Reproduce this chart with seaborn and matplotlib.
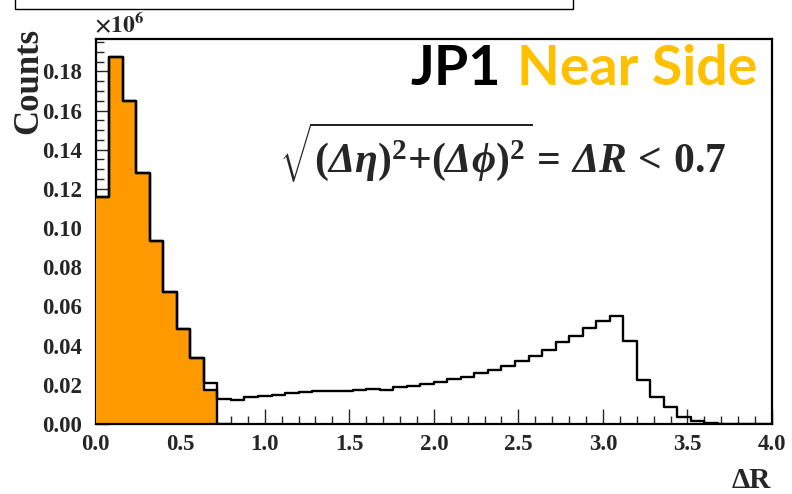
import numpy as np
import pandas as pd
import matplotlib
matplotlib.use("Agg")
import matplotlib.pyplot as plt
from matplotlib.patches import Rectangle
from matplotlib.ticker import MultipleLocator, FormatStrFormatter
import seaborn as sns

# ---- data (counts in units of 1e6), 50 bins of width 0.08 on [0, 4]
bin_lo = 0.0
bin_hi = 4.0
n_bins = 50
total_counts = [0.116, 0.1874, 0.165, 0.128, 0.0936, 0.0673, 0.0483, 0.0337, 0.021, 0.0128,
                0.0124, 0.0139, 0.0144, 0.0149, 0.0156, 0.0161, 0.0166, 0.0169, 0.0169, 0.0175,
                0.0180, 0.0175, 0.0190, 0.0195, 0.0205, 0.0215, 0.0230, 0.0240, 0.0262, 0.0276,
                0.0297, 0.0322, 0.0348, 0.0378, 0.0419, 0.0450, 0.0490, 0.0526, 0.0553, 0.0422,
                0.0227, 0.0139, 0.0085, 0.0037, 0.0017, 0.0007, 0.0, 0.0, 0.0, 0.0]
near_counts = [0.116, 0.1874, 0.165, 0.128, 0.0936, 0.0673, 0.0483, 0.0337, 0.0173, 0.0]
x_label = "\u0394R"
y_label = "Counts"
title_a = "JP1"
title_b = "Near Side"
formula = r"$\sqrt{\mathbf{(}\Delta\eta\mathbf{)}^{\mathbf{2}}\mathbf{+}\mathbf{(}\Delta\phi\mathbf{)}^{\mathbf{2}}}\mathbf{=}\,\Delta R\,<\,\mathbf{0.7}$"

edges = np.linspace(bin_lo, bin_hi, n_bins + 1)
centers = 0.5 * (edges[:-1] + edges[1:])
near_edges = edges[:len(near_counts) + 1]

df_total = pd.DataFrame({"x": centers, "w": total_counts})
df_near = pd.DataFrame({"x": centers[:len(near_counts)], "w": near_counts})

sns.set_style("ticks")
plt.rcParams["font.family"] = ["Liberation Serif", "DejaVu Serif"]
plt.rcParams["font.weight"] = "bold"
plt.rcParams["mathtext.fontset"] = "custom"
plt.rcParams["mathtext.rm"] = "Liberation Serif:italic:bold"
plt.rcParams["mathtext.it"] = "Liberation Serif:italic:bold"
plt.rcParams["mathtext.bf"] = "Liberation Serif:bold"

DPI = 100
fig = plt.figure(figsize=(7.92, 4.94), dpi=DPI)
W, H = 792, 494
ax_l, ax_r, ax_t, ax_b = 95.7, 772, 39, 424
ax = fig.add_axes([ax_l / W, 1 - ax_b / H, (ax_r - ax_l) / W, (ax_b - ax_t) / H])

orange = "#ff9900"
lw = 1.7
# filled near-side histogram
sns.histplot(data=df_near, x="x", weights="w", bins=list(near_edges), element="step",
             fill=True, color=orange, alpha=1.0, linewidth=0, ax=ax, zorder=1)
# outline of near-side histogram
sns.histplot(data=df_near, x="x", weights="w", bins=list(near_edges), element="step",
             fill=False, color="black", linewidth=lw, ax=ax, zorder=3)
# outline of full histogram
sns.histplot(data=df_total, x="x", weights="w", bins=list(edges), element="step",
             fill=False, color="black", linewidth=lw, ax=ax, zorder=3)

ax.set_xlim(bin_lo, bin_hi)
ax.set_ylim(0, 0.1965)
ax.set_xlabel("")
ax.set_ylabel("")
ax.set_axisbelow(True)
for s in ax.spines.values():
    s.set_visible(True)
    s.set_linewidth(1.6)
    s.set_color("black")
ax.spines["left"].set_zorder(0.9)

ax.xaxis.set_major_locator(MultipleLocator(0.5))
ax.xaxis.set_minor_locator(MultipleLocator(0.1))
ax.yaxis.set_major_locator(MultipleLocator(0.02))
ax.yaxis.set_minor_locator(MultipleLocator(0.005))
ax.xaxis.set_major_formatter(FormatStrFormatter("%.1f"))
ax.yaxis.set_major_formatter(FormatStrFormatter("%.2f"))
ax.tick_params(axis="x", which="major", direction="in", length=11, width=1.0, pad=7,
               labelsize=16.5, top=False)
ax.tick_params(axis="x", which="minor", direction="in", length=6, width=1.0, top=False)
ax.tick_params(axis="y", which="major", direction="in", length=9, width=1.0, pad=10,
               labelsize=16.5, right=False)
ax.tick_params(axis="y", which="minor", direction="in", length=6, width=1.0, right=False)
for lab in ax.get_xticklabels() + ax.get_yticklabels():
    lab.set_fontweight("bold")

# axis titles
fig.text(29 / W, 1 - 28 / H, y_label, rotation=90, ha="center", va="top",
         fontsize=25, fontweight="bold")
fig.text(771 / W, 1 - 488 / H, x_label, ha="right", va="baseline",
         fontsize=21, fontweight="bold")
fig.text(94 / W, 1 - 33 / H, r"$\times\mathbf{10^{6}}$", ha="left", va="baseline",
         fontsize=17, math_fontfamily="stix")

# title texts
tb = fig.text(757 / W, 1 - 85 / H, title_b, ha="right", va="baseline", fontsize=40,
              fontweight="bold", family="Lato", color="#ffc000")
fig.canvas.draw()
bb = tb.get_window_extent()
fig.text((bb.x0 - 16) / W, 1 - 85 / H, title_a, ha="right", va="baseline", fontsize=40,
         fontweight="bold", family="Lato", color="black")

# formula
fig.text(279 / W, 1 - 173 / H, formula, ha="left", va="baseline", fontsize=30)

# cut-off box at top
fig.add_artist(Rectangle((15 / W, 1 - 9 / H), (573 - 15) / W, 20 / H,
                         transform=fig.transFigure, fill=False, edgecolor="black",
                         linewidth=1.0, clip_on=False))

fig.savefig("out.png", dpi=DPI)
